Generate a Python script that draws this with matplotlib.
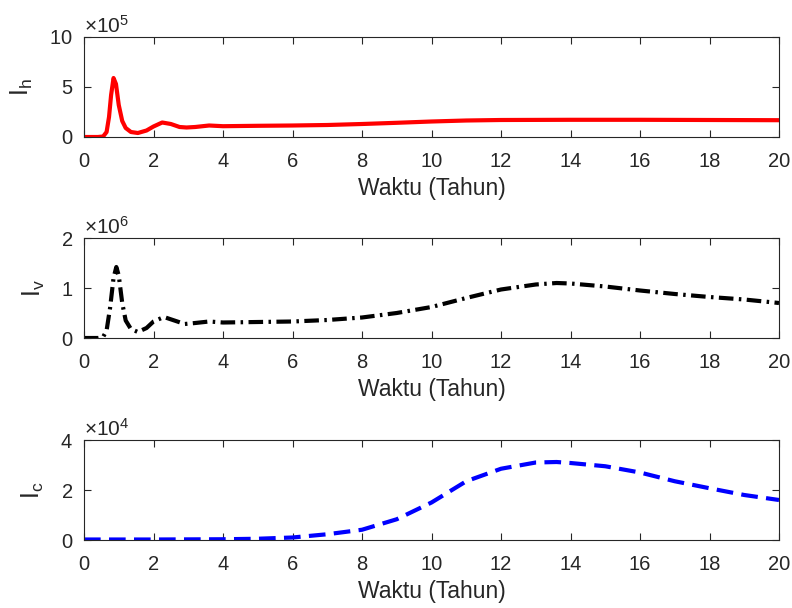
import matplotlib
matplotlib.use('Agg')
import matplotlib.pyplot as plt
from matplotlib.ticker import ScalarFormatter

plt.rcParams['font.family'] = ['Liberation Sans', 'DejaVu Sans']
plt.rcParams['mathtext.default'] = 'regular'

# waktu (tahun) dan nilai yang dibaca dari gambar
t_h = [0, 0.4, 0.55, 0.65, 0.72, 0.78, 0.85, 0.92, 1.0, 1.1, 1.2, 1.35, 1.55, 1.8, 2.0, 2.25,
       2.5, 2.75, 2.95, 3.2, 3.6, 4.0, 5, 6, 7, 8, 9, 10, 11, 12, 14, 16, 18, 20]
Ih = [0, 0, 0.05, 0.5, 2.0, 4.2, 5.9, 5.3, 3.2, 1.6, 0.9, 0.5, 0.4, 0.65, 1.05, 1.45,
      1.3, 1.0, 0.95, 1.0, 1.15, 1.08, 1.12, 1.15, 1.2, 1.3, 1.42, 1.55, 1.65, 1.7, 1.72, 1.72, 1.7, 1.68]

t_v = [0, 0.4, 0.55, 0.65, 0.75, 0.85, 0.93, 1.0, 1.1, 1.2, 1.35, 1.55, 1.8, 2.0, 2.3,
       2.6, 2.9, 3.2, 3.6, 4.0, 5, 6, 7, 8, 9, 10, 11, 12, 13, 13.6, 14, 15, 16, 17, 18, 19, 20]
Iv = [0, 0, 0.02, 0.15, 0.6, 1.2, 1.42, 1.25, 0.7, 0.35, 0.18, 0.12, 0.2, 0.33, 0.42,
      0.35, 0.28, 0.3, 0.33, 0.31, 0.32, 0.33, 0.36, 0.41, 0.5, 0.62, 0.8, 0.97, 1.07, 1.1, 1.09,
      1.03, 0.95, 0.88, 0.82, 0.77, 0.70]

t_c = [0, 2, 4, 5, 6, 7, 8, 9, 10, 11, 12, 13, 13.6, 14, 15, 16, 17, 18, 19, 20]
Ic = [0.02, 0.02, 0.03, 0.05, 0.1, 0.23, 0.41, 0.83, 1.5, 2.35, 2.85, 3.1, 3.12, 3.08,
      2.95, 2.7, 2.35, 2.07, 1.8, 1.6]

x_ticks = list(range(0, 21, 2))


class FixedOrder(ScalarFormatter):
    def __init__(self, order):
        self.fixed = order
        super().__init__(useMathText=True)

    def _set_order_of_magnitude(self):
        self.orderOfMagnitude = self.fixed


panels = [
    (t_h, Ih, 5, 'I$_{h}$', [0, 5, 10], dict(color='red', linestyle='-')),
    (t_v, Iv, 6, 'I$_{v}$', [0, 1, 2], dict(color='black', linestyle=(0, (3.5, 1.3, 0.6, 1.3)))),
    (t_c, Ic, 4, 'I$_{c}$', [0, 2, 4], dict(color='blue', linestyle=(0, (4, 2)))),
]

fig = plt.figure(figsize=(7.92, 6.08), dpi=100)
tops = [37, 238, 440]
axc = '#262626'

for (t, y, p, lab, yt, sty), top in zip(panels, tops):
    sc = 10 ** p
    ax = fig.add_axes([84 / 792, 1 - (top + 100) / 608, 695 / 792, 100 / 608])
    ax.plot(t, [v * sc for v in y], linewidth=3, **sty)
    ax.set_xlim(0, 20)
    ax.set_ylim(yt[0] * sc, yt[-1] * sc)
    ax.set_xticks(x_ticks)
    ax.set_yticks([v * sc for v in yt])
    ax.yaxis.set_major_formatter(FixedOrder(p))
    ax.yaxis.get_offset_text().set_fontsize(15)
    ax.yaxis.get_offset_text().set_color(axc)
    ax.tick_params(direction='in', top=True, right=True, labelsize=14.5, colors=axc,
                   length=5, width=0.8)
    ax.tick_params(axis='x', pad=11)
    ax.tick_params(axis='y', pad=8)
    for s in ax.spines.values():
        s.set_color(axc)
        s.set_linewidth(0.8)
    ax.set_xlabel('Waktu (Tahun)', fontsize=16.5, color=axc, labelpad=4)
    ax.set_ylabel(lab, fontsize=18, color=axc, labelpad=10)

fig.savefig('out.png', dpi=100)
